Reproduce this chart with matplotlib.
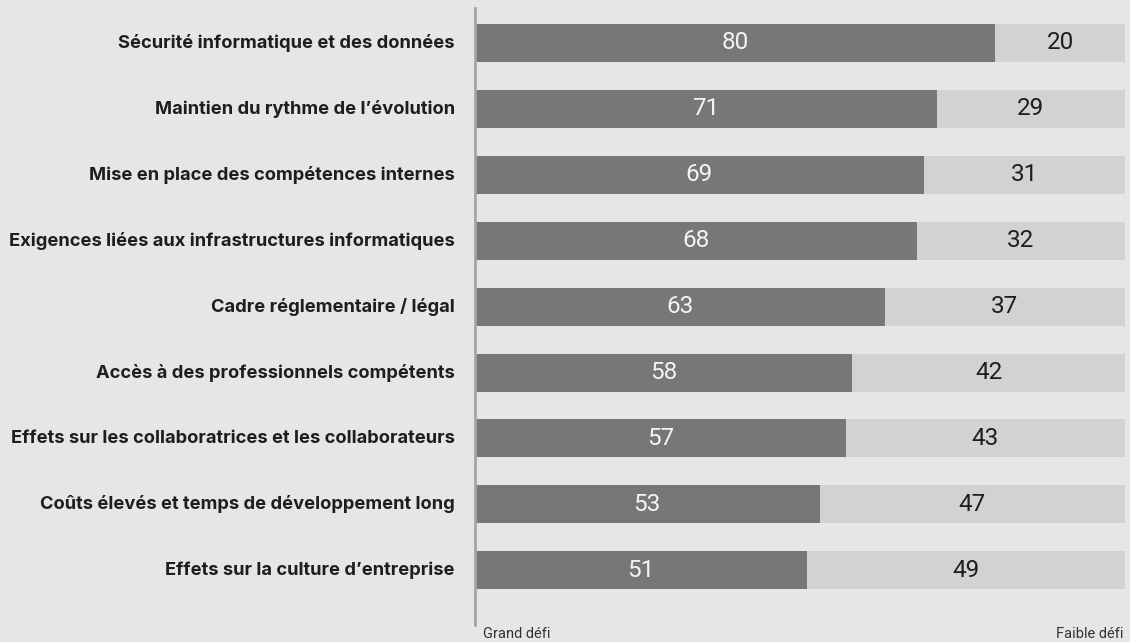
import matplotlib.pyplot as plt

categories = [
    "Sécurité informatique et des données",
    "Maintien du rythme de l’évolution",
    "Mise en place des compétences internes",
    "Exigences liées aux infrastructures informatiques",
    "Cadre réglementaire / légal",
    "Accès à des professionnels compétents",
    "Effets sur les collaboratrices et les collaborateurs",
    "Coûts élevés et temps de développement long",
    "Effets sur la culture d’entreprise",
]
grand_defi = [80, 71, 69, 68, 63, 58, 57, 53, 51]
faible_defi = [20, 29, 31, 32, 37, 42, 43, 47, 49]
axis_labels = ["Grand défi", "Faible défi"]

bg = "#e6e6e6"
dark = "#777777"
light = "#d2d2d2"

fig = plt.figure(figsize=(11.3, 6.42), dpi=100, facecolor=bg)
ax = fig.add_axes([475 / 1130, 17 / 642, 650 / 1130, 617 / 642])
ax.set_facecolor(bg)

ypos = list(range(len(categories)))
h = 0.577
ax.barh(ypos, grand_defi, height=h, color=dark)
ax.barh(ypos, faible_defi, left=grand_defi, height=h, color=light)

# value labels centred in each segment
for y, g, f in zip(ypos, grand_defi, faible_defi):
    ax.text(g / 2, y, str(g), ha="center", va="center", fontsize=17.5,
            family="Roboto", color="#f4f4f4")
    ax.text(g + f / 2, y, str(f), ha="center", va="center", fontsize=17.5,
            family="Roboto", color="#1e1e1e")

# category labels
for y, c in zip(ypos, categories):
    ax.text(-3.1, y, c, ha="right", va="center", fontsize=13.2,
            family="Inter", fontweight="bold", color="#1e1e1e")

ax.set_xlim(0, 100)
ax.set_ylim(8.83, -0.531)
ax.set_xticks([])
ax.set_yticks([])
for s in ["top", "right", "bottom"]:
    ax.spines[s].set_visible(False)
ax.spines["left"].set_color("#a5a5a5")
ax.spines["left"].set_linewidth(2)

fig.text(483 / 1130, 1 - 634 / 642, axis_labels[0], ha="left", va="center",
         fontsize=10.5, family="Roboto", color="#333333")
fig.text(1123 / 1130, 1 - 634 / 642, axis_labels[1], ha="right", va="center",
         fontsize=10.5, family="Roboto", color="#333333")

fig.savefig("out.png", dpi=100, facecolor=bg)
